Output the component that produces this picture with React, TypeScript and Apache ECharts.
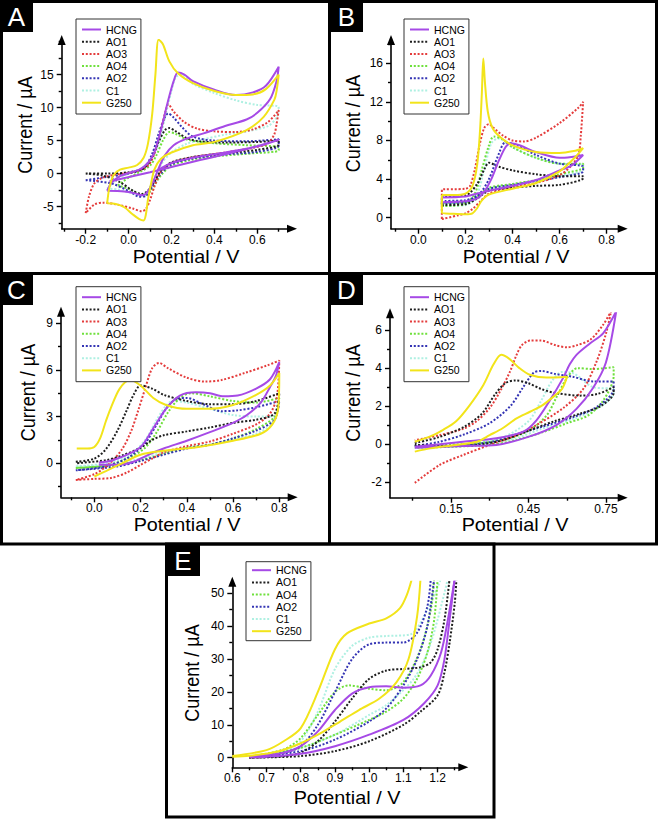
import React, { useEffect, useRef } from 'react';
import * as echarts from 'echarts';

const FONT = '"Liberation Sans", Arial, Helvetica, sans-serif';

// ---------- legend names ----------
const LEGEND_NAMES = ['HCNG', 'AO1', 'AO3', 'AO4', 'AO2', 'C1', 'G250'];
const LEGEND_NAMES_E = ['HCNG', 'AO1', 'AO4', 'AO2', 'C1', 'G250'];

// ---------- tick values ----------
const A_X_MAJOR = [-0.2, 0, 0.2, 0.4, 0.6];
const A_X_MINOR = [-0.3, -0.1, 0.1, 0.3, 0.5, 0.7];
const A_Y_MAJOR = [-5, 0, 5, 10, 15];
const A_Y_MINOR = [-7.5, -2.5, 2.5, 7.5, 12.5, 17.5, 20];

const B_X_MAJOR = [0, 0.2, 0.4, 0.6, 0.8];
const B_X_MINOR = [-0.1, 0.1, 0.3, 0.5, 0.7];
const B_Y_MAJOR = [0, 4, 8, 12, 16];
const B_Y_MINOR = [2, 6, 10, 14, 18];

const C_X_MAJOR = [0, 0.2, 0.4, 0.6, 0.8];
const C_X_MINOR = [-0.1, 0.1, 0.3, 0.5, 0.7];
const C_Y_MAJOR = [0, 3, 6, 9];
const C_Y_MINOR = [-1.5, 1.5, 4.5, 7.5];

const D_X_MAJOR = [0.15, 0.45, 0.75];
const D_X_MINOR = [0, 0.3, 0.6];
const D_Y_MAJOR = [-2, 0, 2, 4, 6];
const D_Y_MINOR = [-1, 1, 3, 5];

const E_X_MAJOR = [0.6, 0.7, 0.8, 0.9, 1.0, 1.1, 1.2];
const E_X_MINOR = [0.65, 0.75, 0.85, 0.95, 1.05, 1.15, 1.25];
const E_Y_MAJOR = [0, 10, 20, 30, 40, 50];
const E_Y_MINOR = [5, 15, 25, 35, 45];

// ---------- panel A data [potential V, current µA] ----------
const A_G250 = [[-0.1,-4.5],[-0.09,-2.2],[-0.07,-0.2],[-0.04,0.6],[0,0.9],[0.04,1.3],[0.07,2.4],[0.09,4.5],[0.11,9],[0.125,15],[0.14,20.3],[0.16,19.6],[0.19,17],[0.23,15.2],[0.3,13.7],[0.4,12.5],[0.5,11.9],[0.58,12],[0.64,12.8],[0.7,15],[0.69,12.5],[0.68,11.2],[0.63,8.6],[0.55,6.6],[0.4,4.8],[0.3,4.3],[0.2,3.2],[0.15,2.2],[0.12,0.6],[0.105,-1.5],[0.09,-4],[0.08,-6.3],[0.07,-7.1],[0.05,-6.9],[0.02,-6.2],[-0.02,-5.1],[-0.06,-4.6],[-0.1,-4.5]];
const A_HCNG = [[-0.1,-2.6],[-0.08,-1.4],[-0.04,-0.4],[0,0.1],[0.05,0.6],[0.09,1.6],[0.12,3.2],[0.15,6.5],[0.18,10.5],[0.21,14],[0.23,15.3],[0.26,15],[0.3,14],[0.4,12.7],[0.5,11.9],[0.58,12.3],[0.64,13.3],[0.7,16.2],[0.69,14],[0.66,11.3],[0.6,9.2],[0.55,8.2],[0.45,7.2],[0.35,6.1],[0.27,5.3],[0.21,4.3],[0.17,2.8],[0.14,0.8],[0.115,-1.2],[0.09,-2.7],[0.065,-3.3],[0.03,-3.0],[-0.02,-2.7],[-0.1,-2.6]];
const A_HCNG_2 = [[-0.09,-1.2],[0.1,0.2],[0.3,1.8],[0.5,3.3],[0.7,5.1],[0.6,4.1],[0.45,3.2],[0.3,2.4],[0.2,1.6],[0.13,0.4]];
const A_C1 = [[-0.1,-2.3],[-0.05,-0.8],[0,0],[0.06,0.8],[0.1,2],[0.14,4.5],[0.17,8.5],[0.2,12.5],[0.22,14.6],[0.25,15],[0.3,13.6],[0.4,12.2],[0.5,11.1],[0.6,10.4],[0.7,10.1],[0.69,8.5],[0.65,7.2],[0.55,6.4],[0.45,5.9],[0.35,5.2],[0.27,4.5],[0.2,3.2],[0.16,1.8],[0.13,0],[0.1,-2],[0.075,-3.4],[0.04,-3.3],[0,-2.8],[-0.05,-2.4],[-0.1,-2.3]];
const A_AO3 = [[-0.2,-6],[-0.185,-3.5],[-0.16,-1.5],[-0.12,-0.6],[-0.05,-0.1],[0.03,0.3],[0.09,1.2],[0.12,3],[0.15,6.5],[0.175,9.8],[0.185,10.5],[0.21,9.4],[0.26,7.8],[0.32,6.8],[0.4,6.4],[0.5,6.3],[0.58,6.7],[0.65,7.8],[0.7,9.6],[0.69,7.5],[0.68,6],[0.65,4.6],[0.58,3.9],[0.45,3.2],[0.3,2.5],[0.2,1.6],[0.15,0.3],[0.12,-2],[0.1,-4],[0.08,-5.4],[0.06,-5.7],[0.02,-5.3],[-0.05,-4.7],[-0.12,-4.4],[-0.16,-4.7],[-0.2,-6]];
const A_AO1 = [[-0.2,0],[-0.1,0],[0,0.2],[0.07,0.8],[0.11,2.5],[0.14,4.8],[0.17,6.6],[0.19,6.9],[0.22,6.4],[0.27,5.4],[0.33,4.9],[0.45,4.7],[0.6,4.8],[0.7,5.0],[0.7,4.4],[0.6,3.6],[0.45,3.1],[0.3,2.5],[0.2,1.7],[0.15,0.4],[0.12,-1.2],[0.09,-2.6],[0.06,-3.1],[0.02,-2.6],[-0.04,-1.3],[-0.12,-0.3],[-0.2,0]];
const A_AO2 = [[-0.2,-1],[-0.12,-0.6],[0,0],[0.07,0.8],[0.11,3],[0.14,6],[0.17,8.6],[0.185,9.1],[0.21,8.5],[0.25,7],[0.3,5.6],[0.4,5],[0.55,4.9],[0.7,5.2],[0.7,4.2],[0.6,3.3],[0.45,2.9],[0.3,2.3],[0.2,1.4],[0.15,0],[0.11,-2],[0.08,-3.4],[0.05,-3.5],[0.01,-2.8],[-0.08,-1.5],[-0.2,-1]];
const A_AO4 = [[-0.05,-1.8],[0,-0.6],[0.05,0.2],[0.1,1.2],[0.13,2.8],[0.16,5],[0.19,6.3],[0.22,6],[0.28,5.1],[0.4,4.6],[0.55,4.3],[0.7,4.0],[0.7,3.5],[0.55,3.0],[0.4,2.6],[0.28,2.0],[0.2,1.2],[0.15,-0.3],[0.11,-2.3],[0.08,-3.2],[0.04,-3.0],[0,-2.3],[-0.05,-1.8]];

// ---------- panel B data ----------
const B_G250 = [[0.1,2.35],[0.15,2.35],[0.2,2.5],[0.23,3.3],[0.25,5.5],[0.262,9],[0.27,13],[0.276,16.5],[0.283,14],[0.295,11],[0.315,9.3],[0.35,8.3],[0.4,7.5],[0.5,6.8],[0.6,6.7],[0.66,6.9],[0.7,7.2],[0.66,6.1],[0.6,4.8],[0.5,3.6],[0.4,3.0],[0.3,2.4],[0.27,1.8],[0.25,1],[0.23,0.45],[0.2,0.35],[0.15,0.4],[0.1,0.5],[0.1,2.35]];
const B_HCNG = [[0.1,1.6],[0.2,1.7],[0.25,2.0],[0.28,2.7],[0.31,4],[0.34,5.8],[0.37,7.3],[0.39,7.7],[0.43,7.5],[0.5,6.8],[0.6,6.2],[0.65,6.3],[0.7,6.5],[0.65,5.4],[0.6,4.9],[0.5,3.9],[0.4,3.3],[0.3,2.8],[0.25,2.5],[0.2,2.2],[0.1,2.1]];
const B_AO3 = [[0.1,-0.15],[0.17,0.25],[0.2,0.45],[0.23,0.9],[0.26,1.6],[0.3,2.5],[0.4,3.2],[0.5,3.6],[0.6,4.4],[0.65,5.4],[0.68,6.5],[0.69,8.5],[0.7,12],[0.68,11.4],[0.6,9.8],[0.5,8.3],[0.45,7.9],[0.4,8],[0.36,8.5],[0.32,9.3],[0.3,9.7],[0.28,9.3],[0.26,7.5],[0.24,5],[0.22,3.3],[0.2,3.0],[0.1,2.9],[0.1,-0.15]];
const B_AO1 = [[0.1,1.3],[0.2,1.4],[0.25,2.0],[0.3,2.8],[0.4,3.1],[0.5,3.3],[0.6,3.4],[0.7,4.1],[0.7,4.3],[0.6,4.3],[0.5,4.5],[0.4,4.9],[0.34,5.3],[0.3,5.7],[0.28,5],[0.25,3.5],[0.2,2.3],[0.1,2.2],[0.1,1.3]];
const B_AO4 = [[0.1,1.2],[0.2,1.4],[0.25,2.2],[0.3,3.1],[0.4,3.5],[0.5,3.9],[0.6,4.5],[0.7,5.2],[0.7,5.6],[0.6,5.6],[0.5,6.2],[0.4,7.3],[0.36,8.1],[0.32,8.4],[0.3,7.5],[0.27,5],[0.24,2.5],[0.2,1.6],[0.1,1.5],[0.1,1.2]];
const B_AO2 = [[0.1,1.5],[0.2,1.6],[0.25,2.2],[0.3,3.0],[0.4,3.4],[0.5,3.8],[0.6,4.2],[0.7,4.8],[0.7,5.3],[0.6,5.6],[0.5,6.5],[0.42,7.5],[0.37,7.8],[0.34,6.5],[0.3,4],[0.26,2.5],[0.2,1.8],[0.1,1.7],[0.1,1.5]];
const B_C1 = [[0.1,1.2],[0.2,1.3],[0.25,2.0],[0.3,3.0],[0.4,3.4],[0.5,3.8],[0.6,4.3],[0.7,5.0],[0.7,5.5],[0.6,5.6],[0.5,6.2],[0.4,7.3],[0.34,8.2],[0.31,7.7],[0.28,5],[0.25,2.5],[0.2,1.5],[0.1,1.4],[0.1,1.2]];

// ---------- panel C data ----------
const C_G250 = [[-0.076,0.95],[-0.03,0.95],[0,1.05],[0.025,1.6],[0.05,2.7],[0.07,3.5],[0.11,4.8],[0.155,5.35],[0.2,5.0],[0.255,4.2],[0.31,3.75],[0.4,3.5],[0.49,3.5],[0.6,3.75],[0.7,4.4],[0.76,5.0],[0.8,5.8],[0.795,3.5],[0.77,2.5],[0.72,1.9],[0.6,1.45],[0.45,1.05],[0.3,0.8],[0.2,0.55],[0.12,0],[0.05,-0.5],[0,-0.85]];
const C_HCNG = [[0.02,0.05],[0.08,0.2],[0.17,0.75],[0.21,1.2],[0.255,2.25],[0.31,3.5],[0.37,4.35],[0.44,4.56],[0.5,4.5],[0.56,4.3],[0.62,4.35],[0.7,4.8],[0.76,5.4],[0.8,6.5],[0.785,5.6],[0.76,4.9],[0.72,3.9],[0.66,3.1],[0.6,2.6],[0.5,2.0],[0.4,1.45],[0.3,0.95],[0.25,0.65],[0.17,0.1],[0.1,-0.1],[0.02,-0.1]];
const C_AO3 = [[-0.08,-1.07],[0,-1.0],[0.07,-0.95],[0.14,-0.6],[0.2,-0.1],[0.25,0.3],[0.3,0.7],[0.4,1.1],[0.5,1.4],[0.6,1.9],[0.7,2.5],[0.76,3.2],[0.79,4.3],[0.8,6.6],[0.75,6.3],[0.65,5.8],[0.55,5.35],[0.48,5.25],[0.4,5.5],[0.32,6.1],[0.28,6.45],[0.25,6.1],[0.22,4.8],[0.19,3.4],[0.16,2.1],[0.12,0.9],[0.06,-0.1],[0,-0.7],[-0.08,-1.07]];
const C_AO1 = [[-0.08,0.1],[0,0.3],[0.05,0.9],[0.1,2.1],[0.14,3.4],[0.17,4.4],[0.2,5.0],[0.25,4.8],[0.3,4.4],[0.4,4.0],[0.5,3.8],[0.6,3.8],[0.7,4.0],[0.8,4.5],[0.78,3.2],[0.7,2.8],[0.6,2.6],[0.5,2.3],[0.4,2.05],[0.3,1.8],[0.25,1.5],[0.2,1.0],[0.12,0.5],[0.05,0.2],[-0.08,0]];
const C_AO4 = [[-0.08,-0.3],[0.05,-0.15],[0.15,0.35],[0.22,1.0],[0.27,2.0],[0.32,3.3],[0.37,4.2],[0.42,4.5],[0.5,4.3],[0.6,4.0],[0.7,3.9],[0.8,4.2],[0.78,3.0],[0.7,2.2],[0.6,1.6],[0.5,1.2],[0.4,1.0],[0.3,0.6],[0.2,0.2],[0.1,-0.1],[-0.08,-0.3]];
const C_AO2 = [[-0.08,-0.45],[0.05,-0.2],[0.15,0.4],[0.22,1.3],[0.27,2.5],[0.31,3.5],[0.35,4.1],[0.4,4.2],[0.47,3.8],[0.55,3.35],[0.62,3.4],[0.7,3.6],[0.8,4.0],[0.78,2.8],[0.7,2.1],[0.6,1.6],[0.5,1.2],[0.4,0.95],[0.3,0.55],[0.2,0.15],[0.1,-0.2],[-0.08,-0.45]];
const C_C1 = [[-0.08,-0.2],[0.05,0],[0.15,0.5],[0.22,1.5],[0.27,2.8],[0.31,3.7],[0.34,4.0],[0.4,3.9],[0.5,3.5],[0.6,3.1],[0.7,3.0],[0.78,3.0],[0.76,2.4],[0.7,1.9],[0.6,1.5],[0.5,1.2],[0.4,1.0],[0.3,0.7],[0.2,0.3],[0.1,-0.05],[-0.08,-0.2]];

// ---------- panel D data ----------
const D_G250 = [[0.01,0.12],[0.07,0.4],[0.12,0.75],[0.17,1.2],[0.22,2.0],[0.275,3.1],[0.315,4.2],[0.345,4.7],[0.375,4.5],[0.415,4.0],[0.455,3.65],[0.52,3.5],[0.6,3.55],[0.58,2.9],[0.556,2.6],[0.505,2.05],[0.456,1.7],[0.404,1.35],[0.35,0.83],[0.3,0.47],[0.25,0.12],[0.17,-0.05],[0.07,-0.23],[0.01,-0.4]];
const D_HCNG = [[0.01,-0.2],[0.2,-0.1],[0.326,-0.05],[0.455,0.4],[0.558,1.0],[0.636,1.85],[0.7,2.95],[0.75,4.3],[0.79,7],[0.74,5.85],[0.688,5.3],[0.636,4.7],[0.61,4.2],[0.585,3.5],[0.533,2.3],[0.481,1.25],[0.43,0.65],[0.326,0.3],[0.197,0.12],[0.01,-0.15]];
const D_AO3 = [[0.01,-2.05],[0.107,-1.1],[0.197,-0.58],[0.3,-0.05],[0.404,0.47],[0.481,1.0],[0.585,1.9],[0.662,2.9],[0.714,4.35],[0.752,5.9],[0.77,7.0],[0.74,6.3],[0.69,5.5],[0.636,5.2],[0.6,5.1],[0.556,5.2],[0.5,5.45],[0.456,5.45],[0.424,5.2],[0.404,4.7],[0.378,3.8],[0.339,2.75],[0.3,1.9],[0.249,1.2],[0.197,0.8],[0.107,0.47],[0.01,0.2]];
const D_AO1 = [[0.01,0.05],[0.1,0.35],[0.2,0.9],[0.27,1.6],[0.32,2.6],[0.36,3.2],[0.4,3.35],[0.45,3.2],[0.5,2.9],[0.55,2.7],[0.65,2.55],[0.72,2.65],[0.78,3.0],[0.78,2.7],[0.73,2.0],[0.65,1.6],[0.55,1.2],[0.45,0.7],[0.35,0.2],[0.25,-0.05],[0.15,-0.1],[0.01,-0.05]];
const D_AO4 = [[0.01,-0.1],[0.2,0],[0.35,0.2],[0.45,0.7],[0.52,1.5],[0.56,2.5],[0.6,3.5],[0.64,4.0],[0.7,3.95],[0.78,4.05],[0.78,3.6],[0.74,2.3],[0.68,1.5],[0.6,1.1],[0.5,0.6],[0.4,0.2],[0.3,-0.05],[0.01,-0.2]];
const D_AO2 = [[0.01,-0.1],[0.1,0.1],[0.2,0.5],[0.3,1.1],[0.38,2.0],[0.43,3.0],[0.47,3.75],[0.5,3.85],[0.55,3.7],[0.62,3.55],[0.7,3.3],[0.78,3.3],[0.78,2.9],[0.72,2.0],[0.62,1.4],[0.5,0.9],[0.4,0.5],[0.3,0.1],[0.15,-0.1],[0.01,-0.15]];
const D_C1 = [[0.01,-0.15],[0.2,-0.05],[0.35,0.35],[0.45,1.2],[0.5,2.3],[0.54,3.3],[0.58,3.8],[0.62,3.75],[0.7,3.0],[0.78,2.9],[0.78,2.7],[0.72,1.9],[0.62,1.3],[0.5,0.8],[0.4,0.3],[0.2,-0.1],[0.01,-0.2]];

// ---------- panel E data ----------
const E_G250_UP = [[0.6,0.5],[0.7,2.3],[0.75,5],[0.8,9],[0.85,20],[0.9,33],[0.935,37.8],[1.0,40.8],[1.05,42.4],[1.09,45.5],[1.11,49.5],[1.125,54.5]];
const E_G250_DOWN = [[1.15,54.5],[1.14,43],[1.115,30],[1.08,23],[1.03,18],[0.97,14.5],[0.915,11],[0.857,7.4],[0.8,4.4],[0.73,1.8],[0.65,0.6],[0.6,0.3]];
const E_HCNG_UP = [[0.65,0.3],[0.75,1.5],[0.8,3.5],[0.85,8],[0.9,14.5],[0.95,19.5],[1.0,21.4],[1.05,21.7],[1.1,21.3],[1.15,22],[1.18,25],[1.21,32],[1.23,42],[1.25,54.5]];
const E_HCNG_DOWN = [[1.25,54.5],[1.235,42],[1.22,30],[1.2,22],[1.16,16.5],[1.1,11.5],[1.0,7],[0.9,3.5],[0.8,1.2],[0.7,0.3],[0.65,0.1]];
const E_AO1_UP = [[0.65,0],[0.75,0.5],[0.8,1.5],[0.85,5],[0.9,11],[0.95,18],[1.0,24],[1.05,26.5],[1.1,27],[1.15,27.5],[1.18,29],[1.2,33],[1.22,42],[1.235,54.5]];
const E_AO1_DOWN = [[1.255,54.5],[1.25,47],[1.235,35],[1.22,26],[1.2,19],[1.15,14],[1.1,10],[1.0,5],[0.9,2],[0.8,0.5],[0.65,0]];
const E_AO4_UP = [[0.65,0.3],[0.75,2.5],[0.8,6],[0.85,13],[0.9,20],[0.94,22],[1.0,21],[1.05,20.5],[1.1,23],[1.15,33],[1.18,45],[1.19,54.5]];
const E_AO4_DOWN = [[1.2,54.5],[1.19,42],[1.17,32],[1.14,24],[1.1,18],[1.05,14],[1.0,11.5],[0.9,7],[0.8,3],[0.7,1],[0.65,0.3]];
const E_AO2_UP = [[0.65,0.2],[0.75,1.5],[0.8,3.5],[0.85,10],[0.9,20],[0.95,30],[1.0,34.5],[1.05,35],[1.1,35],[1.14,38],[1.17,46],[1.18,54.5]];
const E_AO2_DOWN = [[1.19,54.5],[1.17,40],[1.14,30],[1.1,22],[1.05,15],[1.0,11],[0.9,5.5],[0.8,2],[0.65,0.2]];
const E_C1_UP = [[0.65,0.3],[0.75,2],[0.8,5],[0.85,14],[0.9,27],[0.95,34],[1.0,36.5],[1.05,37],[1.12,37.5],[1.17,45],[1.21,54.5]];
const E_C1_DOWN = [[1.23,54.5],[1.2,42],[1.17,32],[1.13,24],[1.05,16],[1.0,13],[0.9,7],[0.8,3],[0.65,0.3]];

// ---------- styles ----------
const COLOR: Record<string, string> = {
  HCNG: '#a64ae6',
  AO1: '#1e1e1e',
  AO3: '#e43c3c',
  AO4: '#6fe03c',
  AO2: '#3434b4',
  C1: '#aef0e2',
  G250: '#f2e41a',
};
const SOLID: Record<string, boolean> = { HCNG: true, G250: true };

type Curve = [string, number[][]];

const PANELS = [
  {
    letter: 'A', box: [0, 0, 33, 32],
    grid: { left: 61.7, top: 40, width: 230.3, height: 188.7 },
    x: [-0.312, 0.762], y: [-8.35, 20.24], xDigits: 1,
    xMajor: A_X_MAJOR, xMinor: A_X_MINOR, yMajor: A_Y_MAJOR, yMinor: A_Y_MINOR,
    legend: { left: 76, top: 19, names: LEGEND_NAMES, padding: [5, 4, 5.8, 5] },
    xTitle: [186, 257], yTitle: [25, 125],
    curves: [['C1', A_C1], ['AO4', A_AO4], ['AO2', A_AO2], ['AO3', A_AO3], ['AO1', A_AO1], ['HCNG', A_HCNG_2], ['HCNG', A_HCNG], ['G250', A_G250]] as Curve[],
  },
  {
    letter: 'B', box: [330, 0, 33, 32],
    grid: { left: 391, top: 40, width: 231.7, height: 188.7 },
    x: [-0.116, 0.868], y: [-1.14, 18.41], xDigits: 1,
    xMajor: B_X_MAJOR, xMinor: B_X_MINOR, yMajor: B_Y_MAJOR, yMinor: B_Y_MINOR,
    legend: { left: 404, top: 19, names: LEGEND_NAMES, padding: [5, 4, 5.8, 5] },
    xTitle: [516, 257], yTitle: [353, 123.5],
    curves: [['C1', B_C1], ['AO4', B_AO4], ['AO2', B_AO2], ['AO3', B_AO3], ['AO1', B_AO1], ['HCNG', B_HCNG], ['G250', B_G250]] as Curve[],
  },
  {
    letter: 'C', box: [0, 273, 33, 32],
    grid: { left: 61, top: 311.7, width: 231.7, height: 185.6 },
    x: [-0.144, 0.858], y: [-2.185, 9.74], xDigits: 1,
    xMajor: C_X_MAJOR, xMinor: C_X_MINOR, yMajor: C_Y_MAJOR, yMinor: C_Y_MINOR,
    legend: { left: 76, top: 286.7, names: LEGEND_NAMES, padding: [5, 4, 5.8, 5] },
    xTitle: [187, 525], yTitle: [28, 392.5],
    curves: [['C1', C_C1], ['AO4', C_AO4], ['AO2', C_AO2], ['AO3', C_AO3], ['AO1', C_AO1], ['HCNG', C_HCNG], ['G250', C_G250]] as Curve[],
  },
  {
    letter: 'D', box: [330, 273, 33, 32],
    grid: { left: 390, top: 313.3, width: 232.7, height: 184.4 },
    x: [-0.086, 0.815], y: [-2.83, 6.89], xDigits: 2,
    xMajor: D_X_MAJOR, xMinor: D_X_MINOR, yMajor: D_Y_MAJOR, yMinor: D_Y_MINOR,
    legend: { left: 404, top: 286.7, names: LEGEND_NAMES, padding: [5, 4, 5.8, 5] },
    xTitle: [515, 525], yTitle: [353, 393],
    curves: [['C1', D_C1], ['AO4', D_AO4], ['AO2', D_AO2], ['AO3', D_AO3], ['AO1', D_AO1], ['HCNG', D_HCNG], ['G250', D_G250]] as Curve[],
  },
  {
    letter: 'E', box: [166, 544, 34, 32],
    grid: { left: 232.3, top: 581.7, width: 231, height: 185.6 },
    x: [0.6, 1.275], y: [-2.92, 53.53], xDigits: 1,
    xMajor: E_X_MAJOR, xMinor: E_X_MINOR, yMajor: E_Y_MAJOR, yMinor: E_Y_MINOR,
    legend: { left: 246, top: 561.7, names: LEGEND_NAMES_E, padding: [3, 4, 4, 5] },
    xTitle: [347, 798], yTitle: [192, 673],
    curves: [
      ['C1', E_C1_UP], ['C1', E_C1_DOWN], ['AO4', E_AO4_UP], ['AO4', E_AO4_DOWN],
      ['AO2', E_AO2_UP], ['AO2', E_AO2_DOWN], ['AO1', E_AO1_UP], ['AO1', E_AO1_DOWN],
      ['HCNG', E_HCNG_UP], ['HCNG', E_HCNG_DOWN], ['G250', E_G250_UP], ['G250', E_G250_DOWN],
    ] as Curve[],
  },
];

function buildOption() {
  const grid: any[] = [];
  const xAxis: any[] = [];
  const yAxis: any[] = [];
  const series: any[] = [];
  const legend: any[] = [];
  const graphic: any[] = [];
  const axisLineStyle = { color: '#000', width: 1.6 };
  const tickLine = { color: '#000', width: 1.4 };

  PANELS.forEach((p, i) => {
    const gMain = 2 * i;
    const gMinor = 2 * i + 1;
    grid.push({ ...p.grid });
    grid.push({ ...p.grid });

    xAxis.push({
      gridIndex: gMain, type: 'value', min: p.x[0], max: p.x[1],
      axisLine: { show: true, onZero: false, symbol: ['none', 'triangle'], symbolSize: [8, 10], lineStyle: axisLineStyle },
      axisTick: { show: true, customValues: p.xMajor, length: 5, lineStyle: tickLine },
      axisLabel: {
        customValues: p.xMajor, formatter: (v: number) => v.toFixed(p.xDigits),
        fontSize: 12, color: '#000', margin: 5, fontFamily: FONT,
      },
      splitLine: { show: false },
    });
    xAxis.push({
      gridIndex: gMinor, type: 'value', min: p.x[0], max: p.x[1],
      axisLine: { show: false, onZero: false },
      axisTick: { show: true, customValues: p.xMinor, length: 3, lineStyle: tickLine },
      axisLabel: { show: false },
      splitLine: { show: false },
    });
    yAxis.push({
      gridIndex: gMain, type: 'value', min: p.y[0], max: p.y[1],
      axisLine: { show: true, onZero: false, symbol: ['none', 'triangle'], symbolSize: [8, 10], lineStyle: axisLineStyle },
      axisTick: { show: true, customValues: p.yMajor, length: 5, lineStyle: tickLine },
      axisLabel: {
        customValues: p.yMajor, formatter: (v: number) => String(Math.round(v)),
        fontSize: 12, color: '#000', margin: 8, fontFamily: FONT,
      },
      splitLine: { show: false },
    });
    yAxis.push({
      gridIndex: gMinor, type: 'value', min: p.y[0], max: p.y[1],
      axisLine: { show: false, onZero: false },
      axisTick: { show: true, customValues: p.yMinor, length: 3, lineStyle: tickLine },
      axisLabel: { show: false },
      splitLine: { show: false },
    });

    p.curves.forEach(([name, data]) => {
      series.push({
        type: 'line', name, xAxisIndex: gMain, yAxisIndex: gMain, data,
        symbol: 'none', showSymbol: false, smooth: 0.3, silent: true, clip: true,
        lineStyle: { color: COLOR[name], width: 2, type: SOLID[name] ? 'solid' : [2, 1.8] },
        itemStyle: { color: COLOR[name] },
      });
    });

    legend.push({
      orient: 'vertical', left: p.legend.left, top: p.legend.top, data: p.legend.names,
      itemWidth: 19, itemHeight: 10, itemGap: 1.2, padding: p.legend.padding,
      borderColor: '#333', borderWidth: 1, backgroundColor: '#fff',
      textStyle: { fontSize: 10.5, color: '#000', fontFamily: FONT, lineHeight: 10 },
      itemStyle: { opacity: 0 }, selectedMode: false,
    });

    // panel letter
    graphic.push({ type: 'rect', shape: { x: p.box[0], y: p.box[1], width: p.box[2], height: p.box[3] }, style: { fill: '#000' }, z: 101 });
    graphic.push({
      type: 'text', x: p.box[0] + p.box[2] / 2, y: p.box[1] + p.box[3] / 2 + 1, z: 102,
      style: { text: p.letter, fill: '#fff', fontSize: 26, fontFamily: FONT, textAlign: 'center', verticalAlign: 'middle' },
    });
    // axis titles
    graphic.push({
      type: 'text', x: p.xTitle[0], y: p.xTitle[1], scaleX: 1.1, z: 102,
      style: { text: 'Potential / V', fill: '#000', fontSize: 18, fontFamily: FONT, textAlign: 'center', verticalAlign: 'middle' },
    });
    graphic.push({
      type: 'text', x: p.yTitle[0], y: p.yTitle[1], rotation: Math.PI / 2, scaleY: 1.1, z: 102,
      style: { text: 'Current / µA', fill: '#000', fontSize: 18, fontFamily: FONT, textAlign: 'center', verticalAlign: 'middle' },
    });
  });

  // panel frames
  const frame = { fill: 'none', stroke: '#000', lineWidth: 3 };
  graphic.push({ type: 'rect', shape: { x: 1.5, y: 1.5, width: 655, height: 542.5 }, style: frame, z: 100 });
  graphic.push({ type: 'line', shape: { x1: 329.5, y1: 0, x2: 329.5, y2: 545 }, style: { stroke: '#000', lineWidth: 3 }, z: 100 });
  graphic.push({ type: 'line', shape: { x1: 0, y1: 273.5, x2: 658, y2: 273.5 }, style: { stroke: '#000', lineWidth: 3 }, z: 100 });
  graphic.push({ type: 'rect', shape: { x: 166.5, y: 544, width: 327.5, height: 273 }, style: frame, z: 100 });

  return {
    animation: false,
    backgroundColor: '#fff',
    grid, xAxis, yAxis, series, legend, graphic,
  };
}

export default function App() {
  const ref = useRef<HTMLDivElement>(null);
  useEffect(() => {
    if (!ref.current) return;
    const chart = echarts.init(ref.current, undefined, { renderer: 'svg' });
    chart.setOption(buildOption() as any);
    return () => chart.dispose();
  }, []);
  return (
    <div
      ref={ref}
      style={{ position: 'absolute', left: 0, top: 0, width: 661, height: 821, background: '#fff' }}
    />
  );
}
